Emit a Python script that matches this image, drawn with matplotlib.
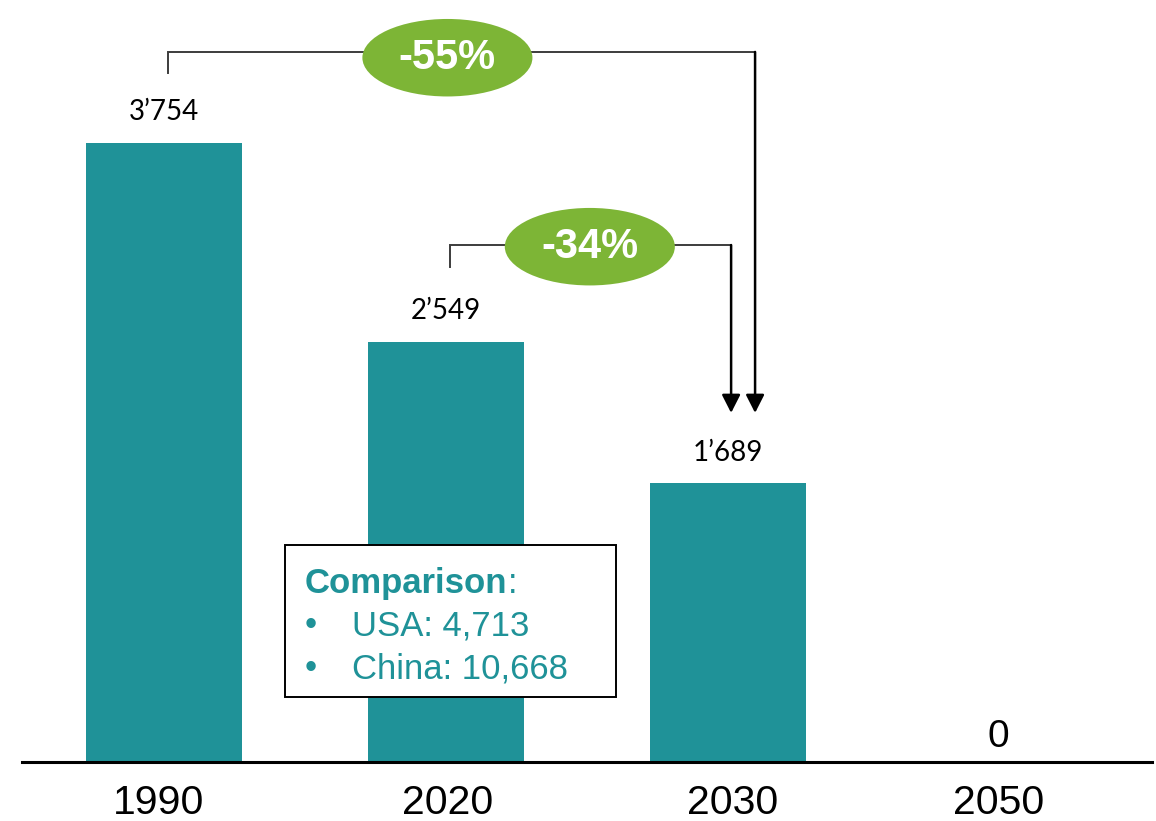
import matplotlib
matplotlib.use("Agg")
import matplotlib.pyplot as plt
from matplotlib.patches import Ellipse, Rectangle
from matplotlib.transforms import ScaledTranslation

# Emissions by year
years = ["1990", "2020", "2030", "2050"]
values = [3754, 2549, 1689, 0]

# Comparison figures shown in the inset box
comparison_title = "Comparison"
comparison_items = ["USA: 4,713", "China: 10,668"]

TEAL = "#1F9298"
GREEN = "#7DB536"
LINE = "#3C3C3C"
SANS = "Liberation Sans"
LABEL_FONT = "Lato"

W, H = 1156, 821
fig = plt.figure(figsize=(W / 100, H / 100), dpi=100)
ax = fig.add_axes([22 / W, 59 / H, 1130 / W, 762 / H])

# Category slots along the baseline
x = [0, 1, 2, 2.96]
ax.bar(x, values, width=0.553, color=TEAL, zorder=2)

ax.set_xlim(-0.5035, 3.5035)
ax.set_ylim(0, 4621)

# Only a baseline remains of the frame
for side in ("left", "right", "top"):
    ax.spines[side].set_visible(False)
ax.spines["bottom"].set_linewidth(2.2)
ax.spines["bottom"].set_color("black")
ax.set_yticks([])
ax.set_xticks(x)
ax.set_xticklabels(years, fontsize=29.5, family=SANS)
ax.tick_params(axis="x", length=0, pad=16)
# small horizontal nudges of the year labels (points)
for lbl, dx in zip(ax.get_xticklabels(), [-4, 1.5, 3.5, 0]):
    lbl.set_transform(lbl.get_transform()
                      + ScaledTranslation(dx / 72, 0, fig.dpi_scale_trans))


def fmt(v):
    return f"{v:,}".replace(",", "\u2019")


# Value labels above bars
for xi, v in zip(x, values):
    if v == 0:
        ax.annotate("0", (xi, v), xytext=(0, 18), textcoords="offset points",
                    ha="center", va="center", fontsize=28, family=SANS)
    else:
        ax.annotate(fmt(v), (xi, v), xytext=(0, 22), textcoords="offset points",
                    ha="center", va="center", fontsize=20, family=LABEL_FONT)


def change_bracket(i_from, i_to, top, leg_bottom, arrow_dx, ell_x, ell_dy):
    """Elbow connector from bar i_from to bar i_to with a % change badge."""
    x0 = x[i_from] + 0.014
    x1 = x[i_to] + arrow_dx
    tip = values[i_to] + 428
    ax.plot([x0, x0, x1], [leg_bottom, top, top], color=LINE, lw=1.4,
            solid_joinstyle="miter", zorder=3)
    ax.annotate("", xy=(x1, tip), xytext=(x1, top),
                arrowprops=dict(arrowstyle="-|>,head_length=0.55,head_width=0.28",
                                color="black", lw=1.8, mutation_scale=20,
                                shrinkA=0, shrinkB=0),
                zorder=3)
    pct = round((values[i_to] - values[i_from]) / values[i_from] * 100)
    cy = top + ell_dy
    ax.add_patch(Ellipse((ell_x, cy), width=0.603, height=470,
                         facecolor=GREEN, edgecolor="none", zorder=4))
    ax.text(ell_x, cy, f"{pct}%", ha="center", va="center", color="white",
            fontsize=30, fontweight="bold", family=SANS, zorder=5)


change_bracket(0, 2, top=4306, leg_bottom=4178, arrow_dx=0.096, ell_x=1.005, ell_dy=-35)
change_bracket(1, 2, top=3135, leg_bottom=3002, arrow_dx=0.011, ell_x=1.51, ell_dy=-10)

# Inset comparison box
ax.add_patch(Rectangle((0.429, 394), 1.603 - 0.429, 1316 - 394,
                       facecolor="white", edgecolor="black", lw=1.4, zorder=6))
title = ax.text(0.5, 1025, comparison_title, ha="left", va="baseline",
                color=TEAL, fontsize=25, fontweight="bold", family=SANS, zorder=7)
ax.annotate(":", xy=(1, 0), xycoords=title, ha="left", va="bottom",
            color=TEAL, fontsize=25, family=SANS, zorder=7)
for yb, item in zip([770, 509], comparison_items):
    ax.text(0.521, yb, "\u2022", ha="center", va="baseline", color=TEAL,
            fontsize=25, family=SANS, zorder=7)
    ax.text(0.667, yb, item, ha="left", va="baseline", color=TEAL,
            fontsize=25, family=SANS, zorder=7)

fig.savefig("out.png", dpi=100, facecolor="white")
